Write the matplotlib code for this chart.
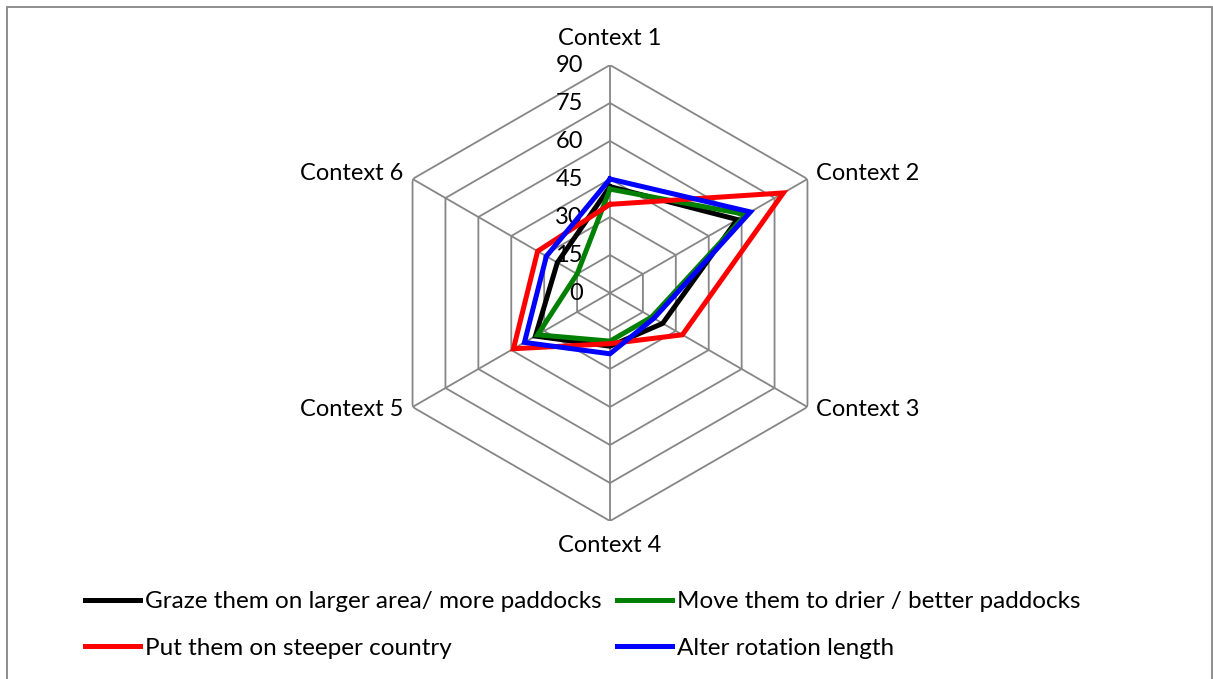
import numpy as np
import matplotlib
matplotlib.use('Agg')
import matplotlib.pyplot as plt
from matplotlib.patches import Rectangle

plt.rcParams['font.family'] = ['Lato', 'DejaVu Sans']

# data
contexts = ['Context 1', 'Context 2', 'Context 3', 'Context 4', 'Context 5', 'Context 6']
graze = [42, 58, 24, 21, 34, 24]
move = [41, 62, 19, 19, 33, 15]
steeper = [35, 79, 33, 20, 44, 33]
rotation = [45, 64, 20, 24, 39, 29]
ticks = [0, 15, 30, 45, 60, 75, 90]

series = [
    ('Graze them on larger area/ more paddocks', graze, '#000000'),
    ('Move them to drier / better paddocks', move, '#008000'),
    ('Put them on steeper country', steeper, '#ff0000'),
    ('Alter rotation length', rotation, '#0000ff'),
]

W, H = 1213, 679
fig = plt.figure(figsize=(W / 100, H / 100), dpi=100)
cx, cy, R = 610, 293, 228
ax = fig.add_axes([(cx - R) / W, (H - cy - R) / H, 2 * R / W, 2 * R / H], projection='polar')
ax.set_theta_offset(np.pi / 2)
ax.set_theta_direction(-1)
ax.set_ylim(0, 90)
ax.axis('off')

n = len(contexts)
theta = np.linspace(0, 2 * np.pi, n, endpoint=False)
closed = np.append(theta, theta[0])

grid_col = '#868686'
for t in ticks[1:]:
    ax.plot(closed, [t] * (n + 1), color=grid_col, lw=1.3, zorder=1)
for th in theta:
    ax.plot([th, th], [0, 90], color=grid_col, lw=1.3, zorder=1)

fs = 17
for v in ticks:
    ax.annotate(str(v), xy=(0, v), xytext=(-27, 0), textcoords='offset pixels',
                ha='right', va='center', fontsize=fs)

offsets = [(0, 27, 'center'), (9, 6, 'left'), (9, -2, 'left'),
           (0, -24, 'center'), (-9, -2, 'right'), (-9, 6, 'right')]
for th, lab, (dx, dy, ha) in zip(theta, contexts, offsets):
    ax.annotate(lab, xy=(th, 90), xytext=(dx, dy), textcoords='offset pixels',
                ha=ha, va='center', fontsize=fs)

lines = []
for name, vals, col in series:
    ln, = ax.plot(closed, vals + vals[:1], color=col, lw=3.6, label=name, zorder=3,
                  solid_joinstyle='miter')
    lines.append(ln)

# row-major order like the original: black, green / red, blue
order = [0, 2, 1, 3]
fig.legend([lines[i] for i in order], [series[i][0] for i in order], ncol=2,
           loc='upper left', bbox_to_anchor=(85 / W, 1 - 591 / H),
           borderaxespad=0, borderpad=0, frameon=False, fontsize=17.5,
           handlelength=2.25, handletextpad=0.2, columnspacing=0.67, labelspacing=1.06)

fig.add_artist(Rectangle((7 / W, -0.05), (1212 - 7) / W, (H - 7) / H + 0.05,
                         transform=fig.transFigure, fill=False, edgecolor=grid_col, lw=1.3))

fig.savefig('out.png', dpi=100)
